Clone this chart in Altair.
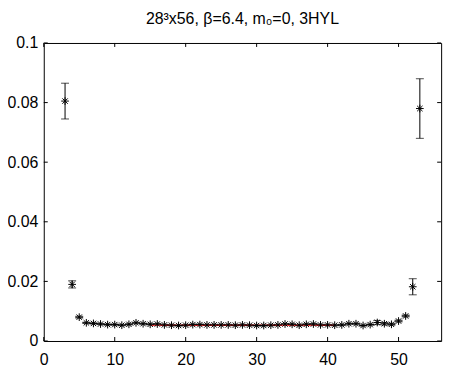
import altair as alt
import pandas as pd

# ---- data ----
x_vals = list(range(3, 54))
y_vals = [0.0805, 0.0190, 0.0080, 0.0061, 0.0059, 0.0057, 0.0055, 0.0055, 0.0053, 0.0056,
          0.0061, 0.0058, 0.0056, 0.0057, 0.0054, 0.0053, 0.0052, 0.0053, 0.0055, 0.0055,
          0.0054, 0.0054, 0.0054, 0.0054, 0.0053, 0.0054, 0.0053, 0.0052, 0.0052, 0.0053,
          0.0054, 0.0057, 0.0056, 0.0053, 0.0056, 0.0057, 0.0054, 0.0054, 0.0053, 0.0054,
          0.0058, 0.0058, 0.0052, 0.0055, 0.0062, 0.0058, 0.0056, 0.0067, 0.0084, 0.0182,
          0.0780]
err_vals = [0.0060, 0.0012, 0.0003] + [0.0002] * 41 + [0.0007, 0.0004, 0.0003, 0.0003, 0.0003,
                                                      0.0027, 0.0100]
fit_x = [15, 41]
fit_y = [0.0053, 0.0053]
x_ticks = [0, 10, 20, 30, 40, 50]
y_ticks = [0, 0.02, 0.04, 0.06, 0.08, 0.1]
title_text = "28³x56, β=6.4, m₀=0, 3HYL"

W, H = 400, 300
FONT = "Liberation Sans"

df = pd.DataFrame({"x": x_vals, "y": y_vals, "e": err_vals})
df["lo"] = df["y"] - df["e"]
df["hi"] = df["y"] + df["e"]
fit_df = pd.DataFrame({"x": fit_x, "y": fit_y})
xt = pd.DataFrame({"t": x_ticks})
yt = pd.DataFrame({"t": y_ticks})

xs = alt.Scale(domain=[0, 56], nice=False, zero=False)
ys = alt.Scale(domain=[0, 0.1], nice=False, zero=False)

x_axis = alt.Axis(values=x_ticks, ticks=False, domain=False, grid=False,
                  labelFontSize=16, labelFont=FONT, labelColor="black",
                  labelPadding=11, title=None, labelFlush=False)
y_axis = alt.Axis(values=y_ticks, ticks=False, domain=False, grid=False,
                  labelFontSize=16, labelFont=FONT, labelColor="black",
                  labelPadding=6, title=None, labelFlush=False,
                  labelExpr="datum.value == 0 ? '0' : datum.value == 0.1 ? '0.1' : format(datum.value, '.2f')")

base = alt.Chart(df)

err_rule = base.mark_rule(color="black", strokeWidth=1).encode(
    x=alt.X("x:Q", scale=xs, axis=x_axis),
    y=alt.Y("lo:Q", scale=ys, axis=y_axis),
    y2="hi:Q",
)
cap_lo = base.mark_tick(color="black", orient="horizontal", size=8, thickness=1).encode(
    x=alt.X("x:Q", scale=xs), y=alt.Y("lo:Q", scale=ys))
cap_hi = base.mark_tick(color="black", orient="horizontal", size=8, thickness=1).encode(
    x=alt.X("x:Q", scale=xs), y=alt.Y("hi:Q", scale=ys))

fit_line = alt.Chart(fit_df).mark_line(color="red", strokeWidth=1).encode(
    x=alt.X("x:Q", scale=xs), y=alt.Y("y:Q", scale=ys))

asterisk = "M-1,0L1,0M0,-1L0,1M-0.7,-0.7L0.7,0.7M-0.7,0.7L0.7,-0.7"
points = base.mark_point(shape=asterisk, filled=False, color="black",
                         strokeWidth=1, size=60, opacity=1).encode(
    x=alt.X("x:Q", scale=xs), y=alt.Y("y:Q", scale=ys))

TL = 4
tick_bot = alt.Chart(xt).mark_rule(color="black").encode(
    x=alt.X("t:Q", scale=xs), y=alt.value(H), y2=alt.value(H - TL))
tick_top = alt.Chart(xt).mark_rule(color="black").encode(
    x=alt.X("t:Q", scale=xs), y=alt.value(0), y2=alt.value(TL))
tick_left = alt.Chart(yt).mark_rule(color="black").encode(
    y=alt.Y("t:Q", scale=ys), x=alt.value(0), x2=alt.value(TL))
tick_right = alt.Chart(yt).mark_rule(color="black").encode(
    y=alt.Y("t:Q", scale=ys), x=alt.value(W), x2=alt.value(W - TL))

chart = alt.layer(
    err_rule, cap_lo, cap_hi, fit_line, points,
    tick_bot, tick_top, tick_left, tick_right,
).properties(
    width=W, height=H,
    title=alt.TitleParams(text=title_text, fontSize=16, fontWeight="normal",
                          font=FONT, color="black", anchor="middle", offset=8),
    autosize=alt.AutoSizeParams(type="none"),
    padding={"left": 36, "top": 34, "right": 20, "bottom": 30},
).configure(
    background="white"
).configure_view(
    stroke="black", strokeWidth=1, strokeOpacity=1
)

chart.save("out.html", embed_options={"renderer": "svg", "actions": False})
